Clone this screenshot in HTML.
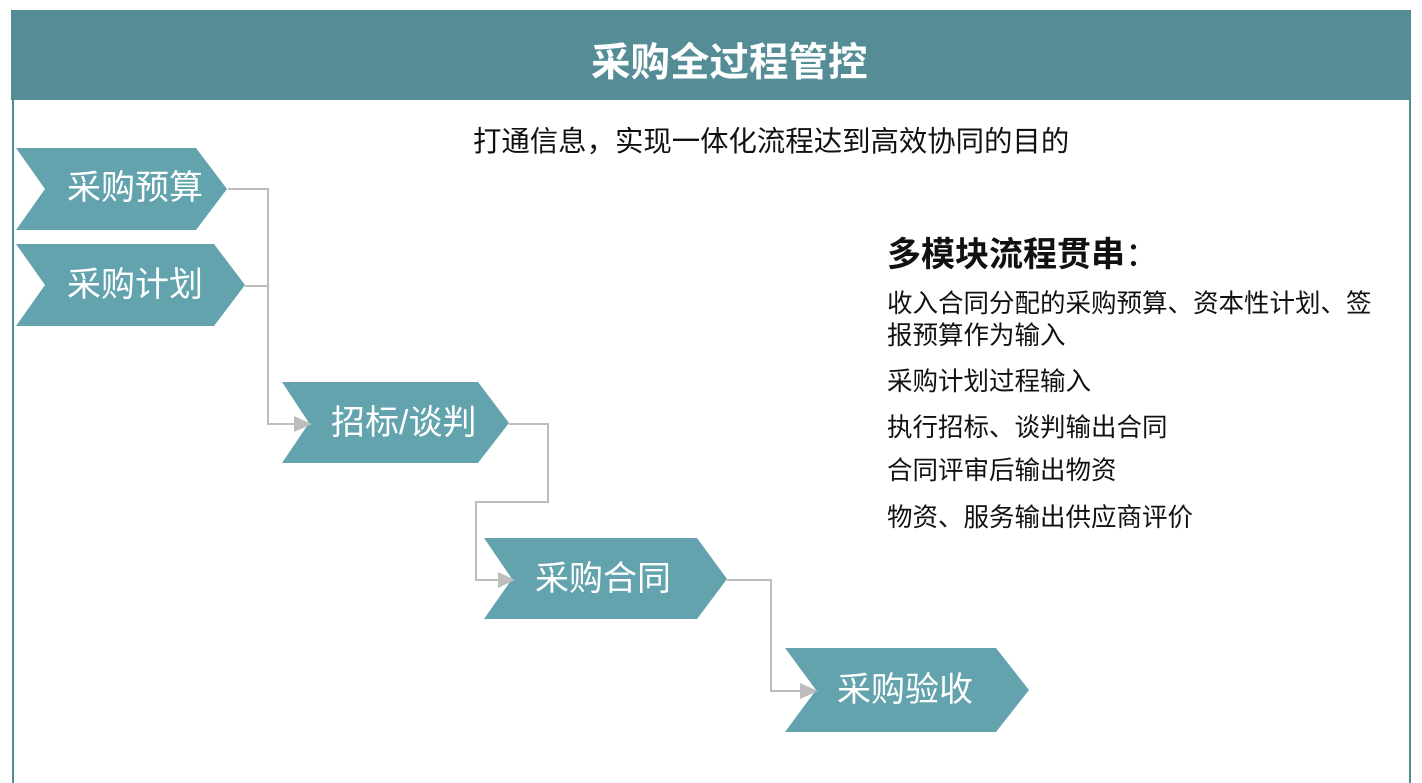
<!DOCTYPE html>
<html><head><meta charset="utf-8"><style>
html,body{margin:0;padding:0;background:#fff;}
body{width:1422px;height:783px;position:relative;overflow:hidden;font-family:"Liberation Sans","Noto Sans CJK SC",sans-serif;}
.t{position:absolute;white-space:nowrap;line-height:1;}
</style></head><body>
<div style="position:absolute;left:11px;top:10px;width:1400px;height:90px;background:#548d96;"></div>
<div style="position:absolute;left:12px;top:100px;width:2px;height:683px;background:#548d96;"></div>
<div style="position:absolute;left:1409px;top:100px;width:2px;height:683px;background:#548d96;"></div>
<div class="t" style="left:591px;top:44px;font-size:39.5px;font-weight:bold;color:#fff;">采购全过程管控</div>
<div class="t" style="left:473px;top:128px;font-size:28.4px;color:#111;">打通信息，实现一体化流程达到高效协同的目的</div>
<svg width="1422" height="783" style="position:absolute;left:0;top:0">
<g fill="#62a3ad">
<polygon points="16,148 196,148 227,189 196,230 16,230 45,189"/>
<polygon points="16,244 214,244 245,285 214,326 16,326 45,285"/>
<polygon points="282,382 478,382 509,423 478,463 282,463 309,423"/>
<polygon points="484,538 697,538 727,579 697,619 484,619 512,579"/>
<polygon points="785,648 996,648 1029,690 996,732 785,732 816,690"/>
</g>
<g fill="none" stroke="#bdbdbd" stroke-width="2">
<polyline points="228,189 268,189 268,424 296,424"/>
<polyline points="245,286 268,286"/>
<polyline points="509,424 548,424 548,502 476,502 476,580 500,580"/>
<polyline points="727,580 771,580 771,691 802,691"/>
</g>
<g fill="#bdbdbd">
<polygon points="294,416 312,424 294,432"/>
<polygon points="498,572 515,580 498,588"/>
<polygon points="800,683 818,691 800,699"/>
</g>
</svg>
<div class="t" style="left:67px;top:171px;font-size:34px;color:#fff;">采购预算</div>
<div class="t" style="left:67px;top:268px;font-size:34px;color:#fff;">采购计划</div>
<div class="t" style="left:331px;top:406px;font-size:34px;color:#fff;">招标/谈判</div>
<div class="t" style="left:535px;top:562px;font-size:34px;color:#fff;">采购合同</div>
<div class="t" style="left:837px;top:673px;font-size:34px;color:#fff;">采购验收</div>
<div class="t" style="left:887px;top:238px;font-size:34px;font-weight:bold;color:#111;">多模块流程贯串<span style="font-weight:normal">：</span></div>
<div class="t" style="left:887px;top:292px;font-size:25.5px;color:#111;">收入合同分配的采购预算、资本性计划、签</div>
<div class="t" style="left:887px;top:324px;font-size:25.5px;color:#111;">报预算作为输入</div>
<div class="t" style="left:887px;top:370px;font-size:25.5px;color:#111;">采购计划过程输入</div>
<div class="t" style="left:887px;top:416px;font-size:25.5px;color:#111;">执行招标、谈判输出合同</div>
<div class="t" style="left:887px;top:459px;font-size:25.5px;color:#111;">合同评审后输出物资</div>
<div class="t" style="left:887px;top:506px;font-size:25.5px;color:#111;">物资、服务输出供应商评价</div>
</body></html>
